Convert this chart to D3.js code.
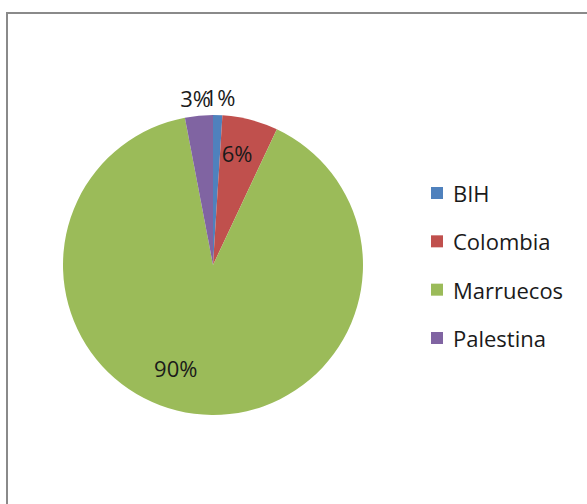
<!DOCTYPE html>
<html><head><meta charset="utf-8">
<script src="https://cdn.jsdelivr.net/npm/d3@7"></script>
<style>html,body{margin:0;padding:0;background:#fff;}svg{display:block;}</style>
</head><body>
<script>
const categories = ["BIH", "Colombia", "Marruecos", "Palestina"];
const values = [1, 6, 90, 3];
const labels = ["1%", "6%", "90%", "3%"];
const colors = ["#4F81BD", "#C0504D", "#9BBB59", "#8064A2"];

const W = 587, H = 504;
const svg = d3.select("body").append("svg").attr("width", W).attr("height", H);
const font = "'Open Sans', sans-serif";

// chart border
svg.append("rect").attr("x", 7).attr("y", 13).attr("width", 600).attr("height", 520)
  .attr("fill", "none").attr("stroke", "#8a8a8a").attr("stroke-width", 2);

const cx = 213, cy = 265, r = 150;
const g = svg.append("g").attr("transform", `translate(${cx},${cy})`);
const pie = d3.pie().sort(null).value(d => d)(values);
const arc = d3.arc().innerRadius(0).outerRadius(r);
g.selectAll("path.slice").data(pie).join("path")
  .attr("d", arc).attr("fill", (d, i) => colors[i]);

// label radii (inside for large slices, outside for small slices)
const labelR = [168, 115, 110, 168];
const angleShift = [0.01, -0.04, 0.22, -0.01];
g.selectAll("text.lbl").data(pie).join("text")
  .attr("class", "lbl")
  .attr("x", (d, i) => labelR[i] * Math.sin((d.startAngle + d.endAngle) / 2 + angleShift[i]))
  .attr("y", (d, i) => -labelR[i] * Math.cos((d.startAngle + d.endAngle) / 2 + angleShift[i]))
  .attr("text-anchor", "middle").attr("dominant-baseline", "central")
  .attr("font-family", font).attr("font-size", 22).attr("fill", "#1a1a1a")
  .text((d, i) => labels[i]);

// legend
const leg = svg.append("g").attr("transform", "translate(431,0)");
const ly = d3.scalePoint().domain(categories).range([193, 338]);
categories.forEach((c, i) => {
  leg.append("rect").attr("x", 0).attr("y", ly(c) - 6).attr("width", 12).attr("height", 12)
    .attr("fill", colors[i]);
  leg.append("text").attr("x", 22).attr("y", ly(c)).attr("dominant-baseline", "central")
    .attr("font-family", font).attr("font-size", 22).attr("fill", "#1a1a1a").text(c);
});
</script>
</body></html>
